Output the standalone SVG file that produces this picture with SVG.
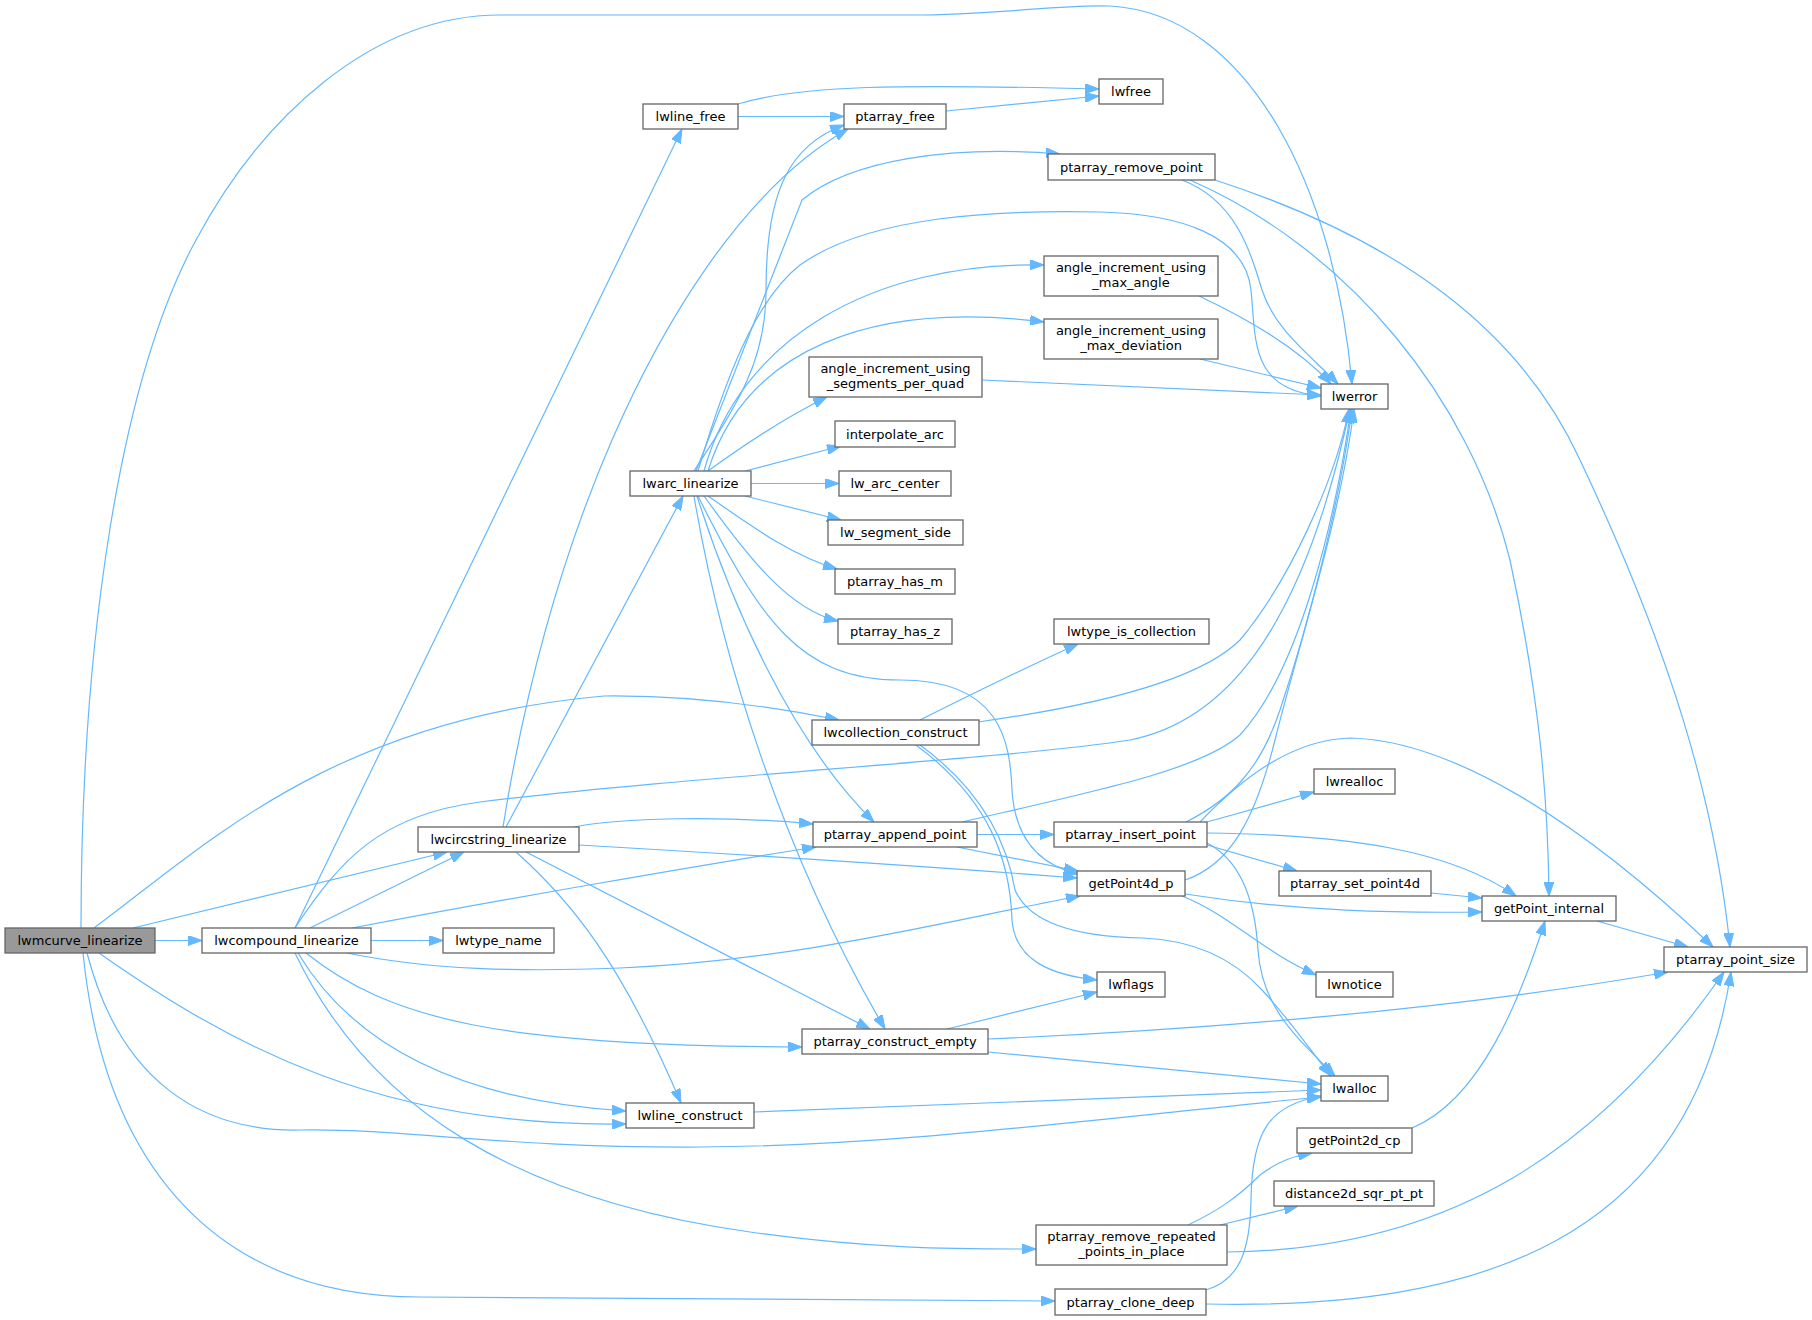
<svg xmlns="http://www.w3.org/2000/svg" width="1812" height="1320" viewBox="0 0 1812 1320">
<style>
.n rect{fill:#fff;stroke:#666;stroke-width:1.3}
.n text{font-family:"DejaVu Sans",sans-serif;font-size:13px;text-anchor:middle;fill:#000}
#edges path{fill:none;stroke:#63b8ff;stroke-width:1.2;marker-end:url(#a)}
</style>
<defs>
<marker id="a" viewBox="0 0 14 10" refX="14" refY="5" markerWidth="14" markerHeight="10" markerUnits="userSpaceOnUse" orient="auto"><path d="M0,0L14,5L0,10z" fill="#63b8ff" stroke="#63b8ff" stroke-width="1"/></marker>
</defs>
<rect width="1812" height="1320" fill="#fff"/>
<g id="edges">
<path d="M155,940.5 L202,940.5"/>
<path d="M81,928 C81,640 120,380 196,240 C260,120 370,15 500,15 L912,15 C1000,15 1060,4 1110,6 C1250,14 1335,190 1352,384"/>
<path d="M133,928 L447,852"/>
<path d="M310,928 L464,852"/>
<path d="M94,928 C200,850 330,720 604,696 C700,695 780,708 839,720"/>
<path d="M99,953 C230,1045 380,1128 626,1124"/>
<path d="M87,953 C120,1080 200,1132 300,1130 C400,1128 500,1148 700,1147 C900,1146 1100,1118 1321,1097"/>
<path d="M83,953 C105,1170 220,1297 420,1297 L1055,1301"/>
<path d="M371,940.5 L443,940.5"/>
<path d="M295,928 L682,129"/>
<path d="M295,928 C340,860 380,815 480,802 C700,775 1000,760 1130,740 C1220,722 1300,640 1350,409"/>
<path d="M352,928 C500,900 700,865 816,847"/>
<path d="M347,953 C430,970 520,972 620,968 C800,960 950,920 1080,896"/>
<path d="M298,953 C350,1040 450,1100 626,1111"/>
<path d="M306,953 C390,1020 500,1046 802,1047"/>
<path d="M295,953 C370,1110 520,1200 750,1232 C880,1250 960,1249 1036,1249"/>
<path d="M506,827 L683,496"/>
<path d="M503,827 C525,690 560,560 612,440 C660,330 740,190 848,129"/>
<path d="M574,827 C620,818 720,815 813,824"/>
<path d="M579,845 C750,855 950,868 1077,878"/>
<path d="M516,852 C570,900 620,960 681,1103"/>
<path d="M526,852 L870,1029"/>
<path d="M738,104 C800,85 900,84 1099,89"/>
<path d="M738,116.5 L844,116.5"/>
<path d="M946,111 L1099,96"/>
<path d="M694,471 C740,400 766,360 766,290 C766,190 790,145 844,125"/>
<path d="M696,471 L802,200 C850,160 950,145 1060,154"/>
<path d="M698,471 C725,380 755,300 800,265 C870,215 1000,210 1100,212 C1180,214 1245,235 1251,290 C1256,340 1250,390 1321,396"/>
<path d="M704,471 C740,340 870,262 1044,265"/>
<path d="M708,471 C745,350 870,300 1044,322"/>
<path d="M708,471 C730,455 780,420 827,397"/>
<path d="M745,471 L841,446"/>
<path d="M751,483.5 L839,483.5"/>
<path d="M745,496 L841,520"/>
<path d="M708,496 C750,525 790,555 837,569"/>
<path d="M704,496 C750,560 790,610 838,621"/>
<path d="M698,496 C760,620 800,680 900,680 C1000,680 1010,740 1012,790 C1015,840 1040,865 1078,874"/>
<path d="M697,496 C730,600 790,740 874,822"/>
<path d="M694,496 C720,650 780,850 885,1029"/>
<path d="M920,720 C960,700 1020,670 1078,644"/>
<path d="M978,722 C1100,705 1200,680 1240,640 C1290,580 1335,480 1349,409"/>
<path d="M916,745 C990,800 1010,860 1012,920 C1015,960 1050,975 1097,980"/>
<path d="M920,745 C995,800 1010,860 1015,890 C1030,925 1080,937 1143,938 C1190,940 1230,955 1262,990 C1290,1020 1310,1050 1331,1076"/>
<path d="M977,834.5 L1054,834.5"/>
<path d="M957,847 L1078,871"/>
<path d="M962,822 C1100,790 1200,770 1240,735 C1300,670 1335,520 1351,409"/>
<path d="M1186,822 C1230,800 1260,770 1280,710 C1310,620 1340,500 1352,409"/>
<path d="M1200,822 C1240,780 1290,740 1350,738 C1450,740 1580,820 1713,947"/>
<path d="M1207,822 L1314,792"/>
<path d="M1207,845 L1297,871"/>
<path d="M1207,833 C1350,835 1450,850 1516,896"/>
<path d="M1207,843 C1240,860 1255,900 1258,950 C1262,1010 1300,1040 1335,1076"/>
<path d="M1185,880 C1230,865 1255,820 1275,740 C1300,640 1340,520 1354,409"/>
<path d="M1185,894 C1300,912 1400,913 1482,912"/>
<path d="M1182,896 C1230,915 1260,950 1316,975"/>
<path d="M1431,893 L1482,898"/>
<path d="M1597,921 L1688,947"/>
<path d="M947,1029 L1097,992"/>
<path d="M988,1039 C1200,1030 1450,1010 1668,972"/>
<path d="M988,1052 L1321,1084"/>
<path d="M754,1112 L1321,1090"/>
<path d="M1188,1225 C1220,1210 1240,1195 1260,1175 C1280,1160 1295,1156 1312,1153"/>
<path d="M1220,1225 L1298,1206"/>
<path d="M1227,1252 C1450,1250 1600,1150 1724,972"/>
<path d="M1206,1290 C1240,1280 1250,1250 1251,1200 C1252,1130 1270,1105 1321,1096"/>
<path d="M1206,1304 C1480,1310 1690,1240 1731,972"/>
<path d="M1412,1128 C1480,1100 1520,1000 1545,921"/>
<path d="M1182,180 C1235,200 1250,250 1262,290 C1275,330 1310,355 1338,384"/>
<path d="M1190,180 C1350,250 1470,400 1510,560 C1540,700 1548,800 1549,896"/>
<path d="M1215,180 C1400,240 1520,330 1580,460 C1670,650 1715,800 1730,947"/>
<path d="M1199,296 C1250,320 1300,350 1331,384"/>
<path d="M1200,359 L1321,388"/>
<path d="M982,380 L1321,395"/>
</g>
<g id="lwmcurve_linearize" class="n"><rect x="5" y="928" width="150" height="25" style="fill:#999"/><text x="80" y="945">lwmcurve_linearize</text></g>
<g id="lwcompound_linearize" class="n"><rect x="202" y="928" width="169" height="25"/><text x="286.5" y="945">lwcompound_linearize</text></g>
<g id="lwcircstring_linearize" class="n"><rect x="418" y="827" width="161" height="25"/><text x="498.5" y="844">lwcircstring_linearize</text></g>
<g id="lwtype_name" class="n"><rect x="443" y="928" width="111" height="25"/><text x="498.5" y="945">lwtype_name</text></g>
<g id="lwline_free" class="n"><rect x="643" y="104" width="95" height="25"/><text x="690.5" y="121">lwline_free</text></g>
<g id="lwarc_linearize" class="n"><rect x="630" y="471" width="121" height="25"/><text x="690.5" y="488">lwarc_linearize</text></g>
<g id="lwline_construct" class="n"><rect x="626" y="1103" width="128" height="25"/><text x="690" y="1120">lwline_construct</text></g>
<g id="ptarray_free" class="n"><rect x="844" y="104" width="102" height="25"/><text x="895" y="121">ptarray_free</text></g>
<g id="ptarray_remove_point" class="n"><rect x="1048" y="154" width="167" height="26"/><text x="1131.5" y="171.5">ptarray_remove_point</text></g>
<g id="angle_increment_using_max_angle" class="n"><rect x="1044" y="256" width="174" height="40"/><text x="1131" y="272">angle_increment_using</text><text x="1131" y="287">_max_angle</text></g>
<g id="angle_increment_using_max_deviation" class="n"><rect x="1044" y="319" width="174" height="40"/><text x="1131" y="335">angle_increment_using</text><text x="1131" y="350">_max_deviation</text></g>
<g id="angle_increment_using_segments_per_quad" class="n"><rect x="809" y="357" width="173" height="40"/><text x="895.5" y="373">angle_increment_using</text><text x="895.5" y="388">_segments_per_quad</text></g>
<g id="interpolate_arc" class="n"><rect x="835" y="421" width="120" height="26"/><text x="895" y="438.5">interpolate_arc</text></g>
<g id="lw_arc_center" class="n"><rect x="839" y="471" width="112" height="25"/><text x="895" y="488">lw_arc_center</text></g>
<g id="lw_segment_side" class="n"><rect x="828" y="520" width="135" height="25"/><text x="895.5" y="537">lw_segment_side</text></g>
<g id="ptarray_has_m" class="n"><rect x="835" y="569" width="120" height="25"/><text x="895" y="586">ptarray_has_m</text></g>
<g id="ptarray_has_z" class="n"><rect x="838" y="619" width="114" height="25"/><text x="895" y="636">ptarray_has_z</text></g>
<g id="lwtype_is_collection" class="n"><rect x="1054" y="619" width="155" height="25"/><text x="1131.5" y="636">lwtype_is_collection</text></g>
<g id="lwcollection_construct" class="n"><rect x="812" y="720" width="167" height="25"/><text x="895.5" y="737">lwcollection_construct</text></g>
<g id="ptarray_append_point" class="n"><rect x="813" y="822" width="164" height="25"/><text x="895" y="839">ptarray_append_point</text></g>
<g id="ptarray_insert_point" class="n"><rect x="1054" y="822" width="153" height="25"/><text x="1130.5" y="839">ptarray_insert_point</text></g>
<g id="getPoint4d_p" class="n"><rect x="1077" y="871" width="108" height="25"/><text x="1131" y="888">getPoint4d_p</text></g>
<g id="ptarray_set_point4d" class="n"><rect x="1279" y="871" width="152" height="25"/><text x="1355" y="888">ptarray_set_point4d</text></g>
<g id="lwrealloc" class="n"><rect x="1314" y="769" width="81" height="25"/><text x="1354.5" y="786">lwrealloc</text></g>
<g id="lwflags" class="n"><rect x="1097" y="972" width="68" height="25"/><text x="1131" y="989">lwflags</text></g>
<g id="ptarray_construct_empty" class="n"><rect x="802" y="1029" width="186" height="25"/><text x="895" y="1046">ptarray_construct_empty</text></g>
<g id="ptarray_remove_repeated_points_in_place" class="n"><rect x="1036" y="1225" width="191" height="40"/><text x="1131.5" y="1241">ptarray_remove_repeated</text><text x="1131.5" y="1256">_points_in_place</text></g>
<g id="ptarray_clone_deep" class="n"><rect x="1055" y="1289" width="151" height="26"/><text x="1130.5" y="1306.5">ptarray_clone_deep</text></g>
<g id="lwfree" class="n"><rect x="1099" y="79" width="64" height="25"/><text x="1131" y="96">lwfree</text></g>
<g id="lwerror" class="n"><rect x="1321" y="384" width="67" height="25"/><text x="1354.5" y="401">lwerror</text></g>
<g id="getPoint_internal" class="n"><rect x="1482" y="896" width="134" height="25"/><text x="1549" y="913">getPoint_internal</text></g>
<g id="ptarray_point_size" class="n"><rect x="1664" y="947" width="143" height="25"/><text x="1735.5" y="964">ptarray_point_size</text></g>
<g id="lwnotice" class="n"><rect x="1316" y="972" width="77" height="25"/><text x="1354.5" y="989">lwnotice</text></g>
<g id="lwalloc" class="n"><rect x="1321" y="1076" width="67" height="25"/><text x="1354.5" y="1093">lwalloc</text></g>
<g id="getPoint2d_cp" class="n"><rect x="1297" y="1128" width="115" height="25"/><text x="1354.5" y="1145">getPoint2d_cp</text></g>
<g id="distance2d_sqr_pt_pt" class="n"><rect x="1274" y="1181" width="160" height="25"/><text x="1354" y="1198">distance2d_sqr_pt_pt</text></g>
</svg>
